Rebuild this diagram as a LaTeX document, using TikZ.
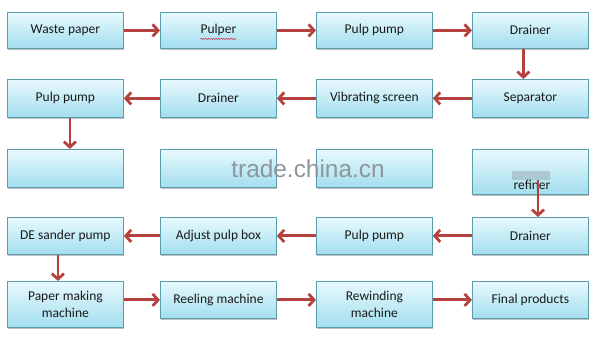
\documentclass[tikz,border=0pt]{standalone}
\usepackage{fontspec}
\setmainfont{Carlito}
\newfontfamily\wmfont{Liberation Sans}
\usetikzlibrary{arrows.meta,shadows,decorations.pathmorphing}
\definecolor{boxborder}{HTML}{5A9EAE}
\definecolor{boxtop}{HTML}{E8F9FD}
\definecolor{boxbot}{HTML}{A2DEEE}
\definecolor{arrred}{HTML}{B4423F}
\definecolor{wmgray}{HTML}{8C969B}
\definecolor{txt}{HTML}{1A1A1A}
\tikzset{
  box/.style={draw=boxborder, line width=0.8pt, top color=boxtop, bottom color=boxbot,
    minimum width=116pt, inner sep=1pt, anchor=north west, align=center,
    font=\fontsize{13.5}{16.5}\selectfont, text=txt,
    drop shadow={shadow xshift=0.6pt, shadow yshift=-1.4pt, opacity=0.25, fill=black}},
  blankbox/.style={box, top color=boxtop, middle color=white, bottom color=boxbot},
  arr/.style={draw=arrred, line width=2.8pt, -{Straight Barb[length=5.5pt,width=12pt]}},
}
\begin{document}
\begin{tikzpicture}[x=1pt,y=-1pt]
\useasboundingbox[fill=white] (0,0) rectangle (616,355);
% row 1
\node[box, minimum height=36pt] (r1a) at (7,12) {Waste paper};
\node[box, minimum height=36pt] (r1b) at (160,12) {Pulper};
\node[box, minimum height=36pt] (r1c) at (316,12) {Pulp pump};
\node[box, minimum height=36pt] (r1d) at (472,12) {Drainer};
% row 2
\node[box, minimum height=38pt] (r2a) at (7,79) {Pulp pump};
\node[box, minimum height=38pt] (r2b) at (160,79) {Drainer};
\node[box, minimum height=38pt] (r2c) at (316,79) {Vibrating screen};
\node[box, minimum height=38pt] (r2d) at (472,79) {Separator};
% row 3
\node[blankbox, minimum height=38pt] (r3a) at (7,149) {};
\node[blankbox, minimum height=38pt] (r3b) at (160,149) {};
\node[blankbox, minimum height=38pt] (r3c) at (316,149) {};
\node[blankbox, minimum height=45pt] (r3d) at (472,149) {};
\fill[gray, opacity=0.3] (512,171) rectangle (550,180);
\node[font=\fontsize{13.5}{16.5}\selectfont, text=txt, anchor=base] (ref) at (532,190) {refiner};
\coordinate (refstart) at (538,180);
% row 4
\node[box, minimum height=37pt] (r4a) at (7,217) {DE sander pump};
\node[box, minimum height=37pt] (r4b) at (160,217) {Adjust pulp box};
\node[box, minimum height=37pt] (r4c) at (316,217) {Pulp pump};
\node[box, minimum height=37pt] (r4d) at (472,217) {Drainer};
% row 5
\node[box, minimum height=46pt] (r5a) at (7,281) {Paper making\\[1pt]machine};
\node[box, minimum height=37pt] (r5b) at (160,281) {Reeling machine};
\node[box, minimum height=46pt] (r5c) at (316,281) {Rewinding\\[1pt]machine};
\node[box, minimum height=37pt] (r5d) at (472,281) {Final products};
% watermark
\node[font=\wmfont\fontsize{24.4}{28}\selectfont, text=wmgray, anchor=base] (wm) at (308,178) {trade.china.cn};
% spell-check underline
\draw[red!70!violet, line width=0.4pt, decorate, decoration={snake, amplitude=0.6pt, segment length=2.5pt}]
  ([xshift=-18pt,yshift=-8.5pt]r1b.center) -- ([xshift=18pt,yshift=-8.5pt]r1b.center);
% arrows
\draw[arr] (r1a.east) -- (r1b.west);
\draw[arr] (r1b.east) -- (r1c.west);
\draw[arr] (r1c.east) -- (r1d.west);
\draw[arr] ([xshift=-7pt]r1d.south) -- ([xshift=-7pt]r2d.north);
\draw[arr] (r2d.west) -- (r2c.east);
\draw[arr] (r2c.west) -- (r2b.east);
\draw[arr] (r2b.west) -- (r2a.east);
\draw[arr] ([xshift=4.5pt]r2a.south) -- ([xshift=4.5pt]r3a.north);
\draw[arr] (refstart) -- (refstart |- r4d.north);
\draw[arr] (r4d.west) -- (r4c.east);
\draw[arr] (r4c.west) -- (r4b.east);
\draw[arr] (r4b.west) -- (r4a.east);
\draw[arr] ([xshift=-7.5pt]r4a.south) -- ([xshift=-7.5pt]r5a.north);
\draw[arr] (r5a.east |- r5b.west) -- (r5b.west);
\draw[arr] (r5b.east) -- (r5c.west |- r5b.east);
\draw[arr] (r5c.east |- r5d.west) -- (r5d.west);
\end{tikzpicture}
\end{document}
